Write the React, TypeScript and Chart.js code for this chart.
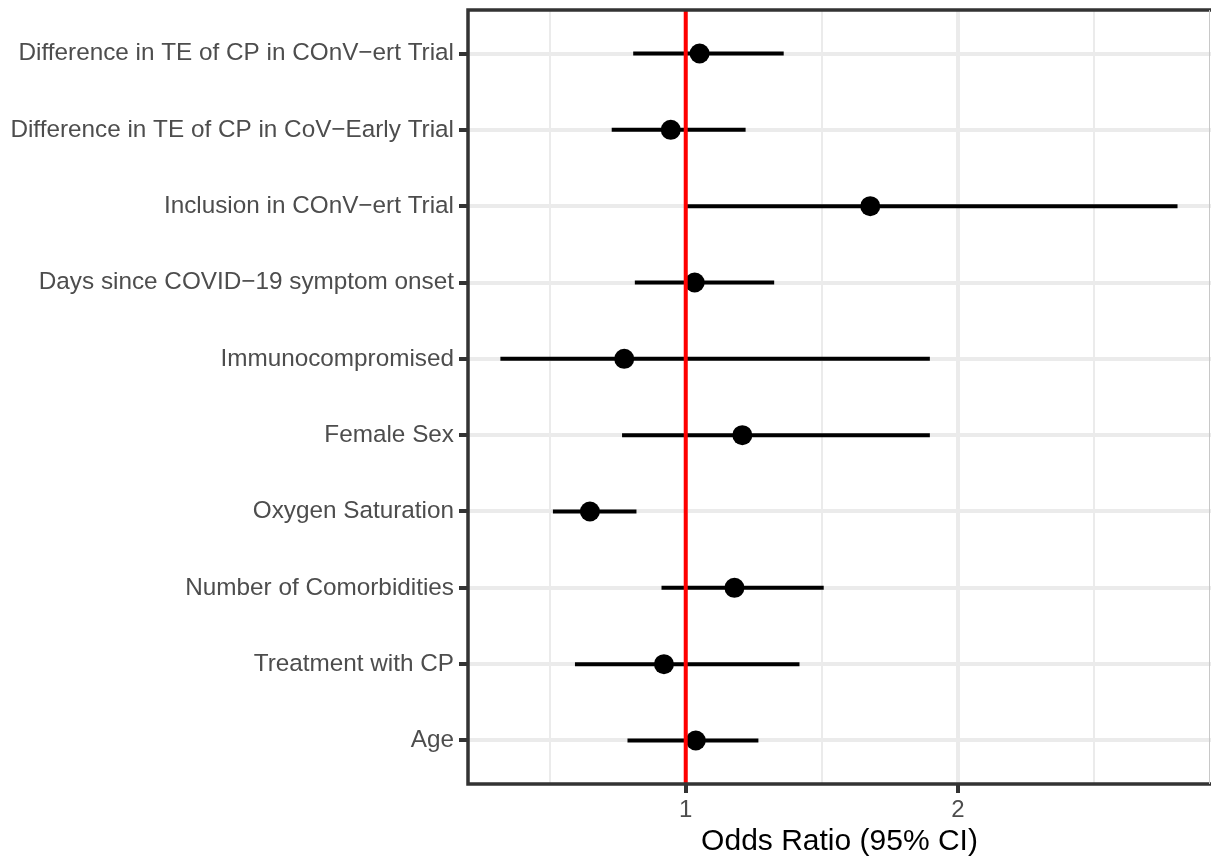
import React, { useEffect, useRef } from "react";
import { Chart, registerables } from "chart.js";

Chart.register(...registerables);

const categories = [
  "Difference in TE of CP in COnV\u2212ert Trial",
  "Difference in TE of CP in CoV\u2212Early Trial",
  "Inclusion in COnV\u2212ert Trial",
  "Days since COVID\u221219 symptom onset",
  "Immunocompromised",
  "Female Sex",
  "Oxygen Saturation",
  "Number of Comorbidities",
  "Treatment with CP",
  "Age",
];
const oddsRatio = [1.051, 0.945, 1.678, 1.033, 0.774, 1.208, 0.648, 1.179, 0.92, 1.037];
const ciLower = [0.807, 0.728, 1.005, 0.813, 0.319, 0.766, 0.512, 0.911, 0.593, 0.786];
const ciUpper = [1.36, 1.22, 2.807, 1.325, 1.897, 1.897, 0.819, 1.507, 1.418, 1.267];
const xTicks = [0.5, 1, 1.5, 2, 2.5];
const xLabeledTicks = [1, 2];
const referenceValue = 1;
const xTitle = "Odds Ratio (95% CI)";

const FONT = "'Liberation Sans', Arial, sans-serif";
const Y_MIN = 0.43;
const Y_MAX = 10.57;

const panelBorder = {
  id: "panelBorder",
  afterDatasetsDraw(chart: any) {
    const { ctx, chartArea } = chart;
    const { left, top, right, bottom } = chartArea;
    ctx.save();
    ctx.strokeStyle = "#333333";
    ctx.lineWidth = 3.5;
    ctx.beginPath();
    ctx.moveTo(right + 2, top);
    ctx.lineTo(left, top);
    ctx.lineTo(left, bottom);
    ctx.lineTo(right + 2, bottom);
    ctx.stroke();
    ctx.strokeStyle = "#C8C8C8";
    ctx.lineWidth = 1;
    ctx.beginPath();
    ctx.moveTo(right - 1.5, top);
    ctx.lineTo(right - 1.5, bottom);
    ctx.stroke();
    ctx.restore();
  },
};

export default function App() {
  const canvasRef = useRef<HTMLCanvasElement | null>(null);

  useEffect(() => {
    if (!canvasRef.current) return;
    const ciDatasets = categories.map((c, i) => ({
      type: "line" as const,
      label: "ci-" + c,
      data: [
        { x: ciLower[i], y: i + 1 },
        { x: ciUpper[i], y: i + 1 },
      ],
      borderColor: "#000000",
      borderWidth: 4,
      pointRadius: 0,
      borderCapStyle: "butt" as const,
      order: 2,
    }));

    const chart = new Chart(canvasRef.current, {
      type: "scatter",
      data: {
        datasets: [
          {
            type: "line",
            label: "reference",
            data: [
              { x: referenceValue, y: Y_MIN },
              { x: referenceValue, y: Y_MAX },
            ],
            borderColor: "#FF0000",
            borderWidth: 4,
            pointRadius: 0,
            order: 0,
          } as any,
          {
            type: "scatter",
            label: "OR",
            data: oddsRatio.map((v, i) => ({ x: v, y: i + 1 })),
            backgroundColor: "#000000",
            borderWidth: 0,
            pointRadius: 10,
            order: 1,
          } as any,
          ...(ciDatasets as any[]),
        ],
      },
      options: {
        animation: false,
        responsive: false,
        devicePixelRatio: 1,
        layout: { autoPadding: false, padding: { top: 10, right: -1, left: 0, bottom: 0 } },
        plugins: {
          legend: { display: false },
          tooltip: { enabled: false },
        },
        scales: {
          x: {
            type: "linear",
            min: 0.2,
            max: 2.93,
            afterBuildTicks: (s: any) => {
              s.ticks = xTicks.map((v) => ({ value: v }));
            },
            afterFit: (s: any) => {
              s.height = 76;
              s.paddingLeft = 0;
              s.paddingRight = 0;
            },
            ticks: {
              autoSkip: false,
              maxRotation: 0,
              padding: 3,
              color: "#4D4D4D",
              font: { family: FONT, size: 24 },
              callback: (v: any) => (xLabeledTicks.includes(Number(v)) ? String(v) : ""),
            },
            grid: {
              color: "#EBEBEB",
              lineWidth: (ctx: any) => (Number.isInteger(ctx.tick?.value) ? 4 : 2),
              tickColor: (ctx: any) =>
                xLabeledTicks.includes(ctx.tick?.value) ? "#333333" : "rgba(0,0,0,0)",
              tickLength: 9,
              tickWidth: 4,
            },
            border: { display: false },
            title: {
              display: true,
              text: xTitle,
              color: "#000000",
              font: { family: FONT, size: 30 },
              padding: { top: 0, bottom: 0 },
            },
          },
          y: {
            type: "linear",
            min: Y_MIN,
            max: Y_MAX,
            reverse: true,
            afterBuildTicks: (s: any) => {
              s.ticks = categories.map((_, i) => ({ value: i + 1 }));
            },
            afterFit: (s: any) => {
              s.width = 468;
              s.paddingTop = 0;
              s.paddingBottom = 0;
            },
            ticks: {
              autoSkip: false,
              padding: 5,
              color: "#4D4D4D",
              font: { family: FONT, size: 24.3 },
              callback: (v: any) => categories[Number(v) - 1] ?? "",
            },
            grid: {
              color: "#EBEBEB",
              lineWidth: 4,
              tickColor: "#333333",
              tickLength: 9,
              tickWidth: 4,
            },
            border: { display: false },
          },
        },
      } as any,
      plugins: [panelBorder],
    });
    return () => chart.destroy();
  }, []);

  return (
    <div
      style={{
        position: "fixed",
        left: 0,
        top: 0,
        width: 1211,
        height: 860,
        background: "#ffffff",
      }}
    >
      <canvas ref={canvasRef} width={1211} height={860} />
    </div>
  );
}
